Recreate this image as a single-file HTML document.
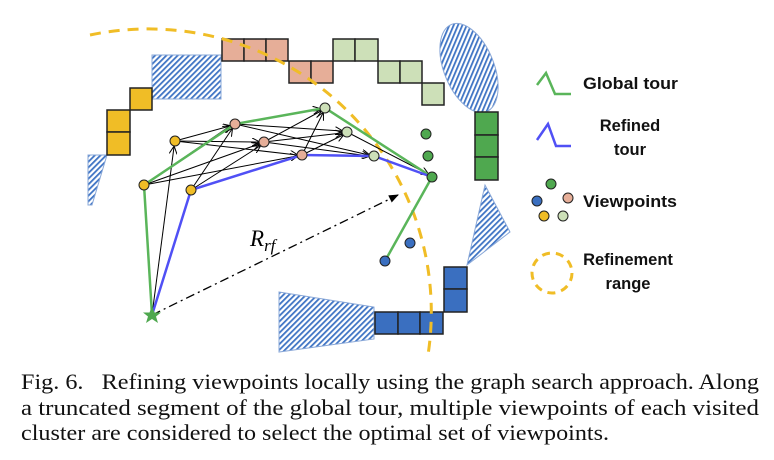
<!DOCTYPE html>
<html><head><meta charset="utf-8"><style>
html,body{margin:0;padding:0;background:#fff;width:774px;height:460px;overflow:hidden}
</style></head><body>
<svg width="774" height="460" viewBox="0 0 774 460" xmlns="http://www.w3.org/2000/svg">
<defs>
<pattern id="h" patternUnits="userSpaceOnUse" width="4" height="4" patternTransform="rotate(45)">
<rect width="4" height="4" fill="#fff"/><rect width="1.8" height="4" fill="#3f74c4"/>
</pattern>
<marker id="a" markerWidth="8" markerHeight="8" refX="7" refY="4" orient="auto" markerUnits="userSpaceOnUse"><path d="M0,0 L8,4 L0,8" fill="none" stroke="#000" stroke-width="1"/></marker>
<marker id="af" markerWidth="10" markerHeight="10" refX="9" refY="5" orient="auto" markerUnits="userSpaceOnUse"><path d="M0,1 L10,5 L0,9z" fill="#000"/></marker>
</defs>
<rect x="152" y="55" width="69" height="44" fill="url(#h)" stroke="#8aa8d8" stroke-width="1"/>
<polygon points="88,155 107,155 92,205 88,205" fill="url(#h)" stroke="#8aa8d8"/>
<ellipse cx="469" cy="68" rx="25" ry="47" transform="rotate(-22 469 68)" fill="url(#h)" stroke="#8aa8d8"/>
<polygon points="485,185 510,232 467,265" fill="url(#h)" stroke="#8aa8d8"/>
<polygon points="279,292 374,307 374,339 279,352" fill="url(#h)" stroke="#8aa8d8"/>
<g stroke="#222" stroke-width="1.5">
<g fill="#f0bd26"><rect x="107" y="110" width="23" height="22"/><rect x="107" y="132" width="23" height="23"/><rect x="130" y="88" width="22" height="22"/></g>
<g fill="#e6ae98"><rect x="222" y="39" width="22" height="22"/><rect x="244" y="39" width="22" height="22"/><rect x="266" y="39" width="22" height="22"/><rect x="289" y="61" width="22" height="22"/><rect x="311" y="61" width="22" height="22"/></g>
<g fill="#cde0b8"><rect x="333" y="39" width="22" height="22"/><rect x="355" y="39" width="23" height="22"/><rect x="378" y="61" width="22" height="22"/><rect x="400" y="61" width="22" height="22"/><rect x="422" y="83" width="22" height="22"/></g>
<g fill="#4fa84f"><rect x="475" y="112" width="23" height="23"/><rect x="475" y="135" width="23" height="22"/><rect x="475" y="157" width="23" height="23"/></g>
<g fill="#3a6fc0"><rect x="444" y="267" width="23" height="22"/><rect x="444" y="289" width="23" height="23"/><rect x="375" y="312" width="23" height="22"/><rect x="398" y="312" width="22" height="22"/><rect x="420" y="312" width="23" height="22"/></g>
</g>
<path d="M90,35 A283,283 0 0 1 428,355" fill="none" stroke="#f0bd26" stroke-width="3" stroke-dasharray="11,8"/>
<line x1="152" y1="315" x2="398" y2="195" stroke="#000" stroke-width="1.3" stroke-dasharray="9,4,2,4" marker-end="url(#af)"/>
<text x="250" y="246" font-family="Liberation Serif,serif" font-style="italic" font-size="23">R<tspan font-size="17" dy="5">rf</tspan></text>
<g stroke="#000" stroke-width="1" marker-end="url(#a)">
<line x1="152" y1="315" x2="174" y2="147"/>
<line x1="175" y1="141" x2="230" y2="126"/><line x1="175" y1="141" x2="259" y2="142"/><line x1="175" y1="141" x2="297" y2="155"/>
<line x1="144" y1="185" x2="230" y2="126"/><line x1="144" y1="185" x2="259" y2="144"/><line x1="144" y1="185" x2="297" y2="156"/>
<line x1="191" y1="190" x2="232" y2="129"/><line x1="191" y1="190" x2="260" y2="146"/>
<line x1="235" y1="124" x2="320" y2="109"/><line x1="235" y1="124" x2="342" y2="131"/><line x1="235" y1="124" x2="369" y2="155"/>
<line x1="264" y1="142" x2="321" y2="111"/><line x1="264" y1="142" x2="342" y2="133"/><line x1="264" y1="142" x2="369" y2="156"/>
<line x1="302" y1="155" x2="323" y2="113"/><line x1="302" y1="155" x2="343" y2="135"/>
<line x1="347" y1="132" x2="428" y2="174"/>
</g>
<polyline points="152,315 144,185 235,124 325,108 432,177 385,261" fill="none" stroke="#5ab55a" stroke-width="2.5"/>
<polyline points="152,315 191,190 302,155 374,156 432,177" fill="none" stroke="#5050f5" stroke-width="2.5"/>
<g stroke="#222" stroke-width="1">
<circle cx="175" cy="141" r="5" fill="#f0bd26"/><circle cx="144" cy="185" r="5" fill="#f0bd26"/><circle cx="191" cy="190" r="5" fill="#f0bd26"/>
<circle cx="235" cy="124" r="5" fill="#e6ae98"/><circle cx="264" cy="142" r="5" fill="#e6ae98"/><circle cx="302" cy="155" r="5" fill="#e6ae98"/>
<circle cx="325" cy="108" r="5" fill="#cde0b8"/><circle cx="347" cy="132" r="5" fill="#cde0b8"/><circle cx="374" cy="156" r="5" fill="#cde0b8"/>
<circle cx="432" cy="177" r="5" fill="#4fa84f"/><circle cx="426" cy="134" r="5" fill="#4fa84f"/><circle cx="428" cy="156" r="5" fill="#4fa84f"/>
<circle cx="385" cy="261" r="5" fill="#3a6fc0"/><circle cx="410" cy="243" r="5" fill="#3a6fc0"/>
</g>
<polygon points="152,306 154.5,312.5 161,312.5 156,316.5 158,323 152,319 146,323 148,316.5 143,312.5 149.5,312.5" fill="#4fa84f"/>
<polyline points="537,85 546,73 555,94 571,94" fill="none" stroke="#5ab55a" stroke-width="2.5"/>
<polyline points="537,140 548,124 556,146 571,146" fill="none" stroke="#5050f5" stroke-width="2.5"/>
<g font-family="Liberation Sans,sans-serif" font-weight="bold" font-size="16.5" fill="#111">
<text x="583" y="89" textLength="95" lengthAdjust="spacingAndGlyphs">Global tour</text>
<text x="630" y="131" text-anchor="middle">Refined</text>
<text x="630" y="155" text-anchor="middle">tour</text>
<text x="583" y="207" textLength="94" lengthAdjust="spacingAndGlyphs">Viewpoints</text>
<text x="628" y="265" text-anchor="middle">Refinement</text>
<text x="628" y="289" text-anchor="middle">range</text>
</g>
<g stroke="#222" stroke-width="1">
<circle cx="551" cy="184" r="5" fill="#4fa84f"/><circle cx="537" cy="201" r="5" fill="#3a6fc0"/><circle cx="568" cy="198" r="5" fill="#e6ae98"/><circle cx="544" cy="216" r="5" fill="#f0bd26"/><circle cx="563" cy="216" r="5" fill="#cde0b8"/>
</g>
<circle cx="552" cy="273" r="20" fill="none" stroke="#f0bd26" stroke-width="3" stroke-dasharray="8,6"/>
<g font-family="Liberation Serif,serif" font-size="22" fill="#111">
<text x="21" y="389" textLength="738" lengthAdjust="spacingAndGlyphs">Fig. 6.&#160;&#160; Refining viewpoints locally using the graph search approach. Along</text>
<text x="21" y="415" textLength="738" lengthAdjust="spacingAndGlyphs">a truncated segment of the global tour, multiple viewpoints of each visited</text>
<text x="21" y="440" textLength="588" lengthAdjust="spacingAndGlyphs">cluster are considered to select the optimal set of viewpoints.</text>
</g>
</svg>
</body></html>
